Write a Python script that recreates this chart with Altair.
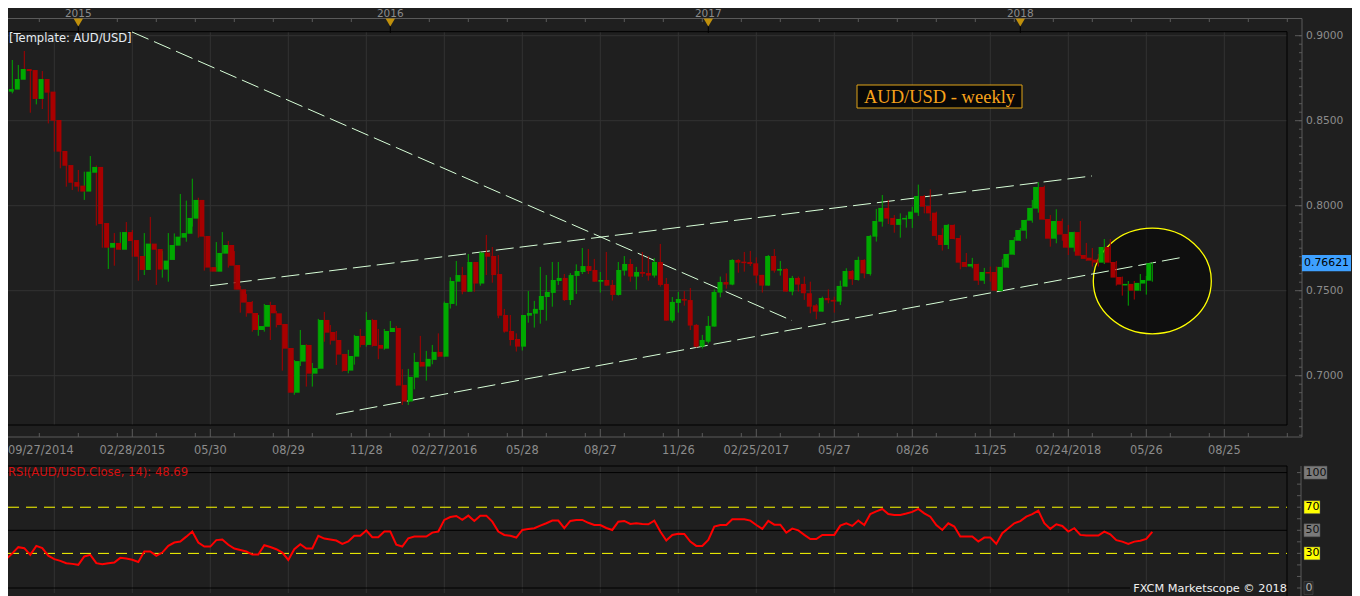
import altair as alt
import pandas as pd

# ---------------- data (weekly AUD/USD) ----------------
first_week = "2014-09-27"

opens = [
    0.8769, 0.8671, 0.8683, 0.8741, 0.8804, 0.8798, 0.8628, 0.8745, 0.8671, 0.8504,
    0.8322, 0.8239, 0.8139, 0.8118, 0.8083, 0.8194, 0.8228, 0.7898, 0.7753, 0.7781,
    0.7741, 0.7845, 0.7798, 0.7704, 0.7622, 0.7777, 0.7745, 0.7624, 0.7681, 0.7765,
    0.7812, 0.7835, 0.7924, 0.8034, 0.7822, 0.7639, 0.7612, 0.7718, 0.7769, 0.7651,
    0.7508, 0.7434, 0.7369, 0.7269, 0.7288, 0.7416, 0.7367, 0.7304, 0.7163, 0.6900,
    0.7083, 0.7181, 0.7012, 0.7041, 0.7328, 0.7257, 0.7210, 0.7128, 0.7030, 0.7112,
    0.7234, 0.7181, 0.7328, 0.7181, 0.7159, 0.7257, 0.7281, 0.6946, 0.6848, 0.6989,
    0.7081, 0.7054, 0.7093, 0.7140, 0.7112, 0.7422, 0.7553, 0.7592, 0.7494, 0.7669,
    0.7542, 0.7724, 0.7704, 0.7598, 0.7357, 0.7263, 0.7216, 0.7171, 0.7353, 0.7365,
    0.7387, 0.7463, 0.7487, 0.7557, 0.7575, 0.7445, 0.7587, 0.7610, 0.7645, 0.7622,
    0.7553, 0.7563, 0.7534, 0.7475, 0.7618, 0.7657, 0.7583, 0.7610, 0.7604, 0.7589,
    0.7669, 0.7540, 0.7324, 0.7428, 0.7451, 0.7445, 0.7299, 0.7171, 0.7200, 0.7289,
    0.7489, 0.7551, 0.7536, 0.7681, 0.7671, 0.7669, 0.7661, 0.7593, 0.7530, 0.7704,
    0.7618, 0.7628, 0.7495, 0.7575, 0.7540, 0.7485, 0.7414, 0.7377, 0.7457, 0.7446,
    0.7436, 0.7524, 0.7616, 0.7563, 0.7681, 0.7598, 0.7818, 0.7906, 0.7987, 0.7928,
    0.7887, 0.7920, 0.7922, 0.7959, 0.8057, 0.7998, 0.7959, 0.7828, 0.7769, 0.7887,
    0.7810, 0.7669, 0.7642, 0.7657, 0.7559, 0.7610, 0.7610, 0.7498, 0.7636, 0.7712,
    0.7794, 0.7853, 0.7912, 0.7983, 0.8110, 0.7922, 0.7806, 0.7910, 0.7834, 0.7753,
    0.7845, 0.7710, 0.7694, 0.7683, 0.7665, 0.7757, 0.7669, 0.7581, 0.7536, 0.7540,
    0.7500, 0.7542, 0.7559,
]
highs = [
    0.8798, 0.8896, 0.8857, 0.8828, 0.8910, 0.8798, 0.8750, 0.8792, 0.8696, 0.8539,
    0.8377, 0.8269, 0.8141, 0.8210, 0.8200, 0.8292, 0.8237, 0.8024, 0.7871, 0.7839,
    0.7845, 0.7904, 0.7857, 0.7704, 0.7839, 0.7934, 0.7745, 0.7733, 0.7839, 0.7837,
    0.8069, 0.8030, 0.8159, 0.8047, 0.7822, 0.7639, 0.7786, 0.7845, 0.7792, 0.7733,
    0.7528, 0.7481, 0.7439, 0.7357, 0.7422, 0.7435, 0.7381, 0.7304, 0.7163, 0.7092,
    0.7269, 0.7185, 0.7075, 0.7334, 0.7375, 0.7298, 0.7263, 0.7128, 0.7152, 0.7240,
    0.7275, 0.7375, 0.7334, 0.7275, 0.7275, 0.7322, 0.7293, 0.7038, 0.7040, 0.7134,
    0.7234, 0.7146, 0.7181, 0.7249, 0.7436, 0.7579, 0.7675, 0.7640, 0.7716, 0.7669,
    0.7730, 0.7828, 0.7757, 0.7710, 0.7393, 0.7357, 0.7249, 0.7357, 0.7498, 0.7440,
    0.7640, 0.7592, 0.7669, 0.7669, 0.7598, 0.7604, 0.7655, 0.7751, 0.7745, 0.7687,
    0.7610, 0.7728, 0.7563, 0.7669, 0.7704, 0.7687, 0.7640, 0.7728, 0.7704, 0.7692,
    0.7775, 0.7575, 0.7463, 0.7493, 0.7498, 0.7516, 0.7304, 0.7240, 0.7351, 0.7508,
    0.7583, 0.7602, 0.7685, 0.7685, 0.7728, 0.7734, 0.7696, 0.7593, 0.7710, 0.7745,
    0.7675, 0.7632, 0.7587, 0.7583, 0.7583, 0.7553, 0.7422, 0.7465, 0.7508, 0.7465,
    0.7559, 0.7632, 0.7622, 0.7700, 0.7685, 0.7828, 0.7981, 0.8063, 0.8034, 0.7945,
    0.7955, 0.7943, 0.7994, 0.8124, 0.8063, 0.8096, 0.7965, 0.7867, 0.7892, 0.7890,
    0.7826, 0.7722, 0.7693, 0.7659, 0.7634, 0.7642, 0.7642, 0.7687, 0.7718, 0.7816,
    0.7869, 0.7918, 0.8034, 0.8139, 0.8118, 0.7945, 0.7979, 0.7924, 0.7887, 0.7847,
    0.7910, 0.7781, 0.7751, 0.7716, 0.7804, 0.7804, 0.7675, 0.7583, 0.7557, 0.7557,
    0.7598, 0.7587, 0.7667,
]
lows = [
    0.8661, 0.8661, 0.8661, 0.8724, 0.8759, 0.8547, 0.8596, 0.8569, 0.8484, 0.8318,
    0.8220, 0.8112, 0.8092, 0.8083, 0.8034, 0.8194, 0.7883, 0.7753, 0.7628, 0.7647,
    0.7741, 0.7769, 0.7700, 0.7559, 0.7592, 0.7741, 0.7534, 0.7577, 0.7553, 0.7681,
    0.7812, 0.7788, 0.7877, 0.7812, 0.7618, 0.7612, 0.7612, 0.7718, 0.7636, 0.7506,
    0.7371, 0.7347, 0.7259, 0.7235, 0.7259, 0.7210, 0.7284, 0.7030, 0.6900, 0.6888,
    0.7057, 0.6936, 0.6936, 0.7041, 0.7200, 0.7183, 0.7063, 0.7024, 0.7014, 0.7065,
    0.7167, 0.7171, 0.7171, 0.7097, 0.7153, 0.7257, 0.6942, 0.6828, 0.6828, 0.6920,
    0.7054, 0.6971, 0.7067, 0.7112, 0.7112, 0.7395, 0.7412, 0.7479, 0.7494, 0.7494,
    0.7530, 0.7592, 0.7547, 0.7338, 0.7253, 0.7177, 0.7142, 0.7148, 0.7312, 0.7283,
    0.7306, 0.7324, 0.7406, 0.7534, 0.7440, 0.7416, 0.7481, 0.7598, 0.7598, 0.7553,
    0.7489, 0.7530, 0.7442, 0.7471, 0.7589, 0.7553, 0.7506, 0.7581, 0.7559, 0.7577,
    0.7524, 0.7324, 0.7312, 0.7371, 0.7412, 0.7269, 0.7165, 0.7160, 0.7190, 0.7289,
    0.7461, 0.7512, 0.7532, 0.7606, 0.7612, 0.7645, 0.7544, 0.7489, 0.7530, 0.7606,
    0.7589, 0.7495, 0.7473, 0.7495, 0.7446, 0.7367, 0.7332, 0.7377, 0.7426, 0.7371,
    0.7416, 0.7524, 0.7534, 0.7559, 0.7573, 0.7589, 0.7789, 0.7877, 0.7892, 0.7841,
    0.7812, 0.7871, 0.7869, 0.7940, 0.7955, 0.7910, 0.7798, 0.7736, 0.7745, 0.7802,
    0.7626, 0.7638, 0.7632, 0.7534, 0.7540, 0.7553, 0.7498, 0.7496, 0.7634, 0.7710,
    0.7792, 0.7806, 0.7900, 0.7959, 0.7916, 0.7759, 0.7779, 0.7794, 0.7710, 0.7730,
    0.7704, 0.7675, 0.7642, 0.7642, 0.7657, 0.7663, 0.7530, 0.7471, 0.7412, 0.7448,
    0.7498, 0.7477, 0.7553,
]
closes = [
    0.8671, 0.8686, 0.8745, 0.8804, 0.8792, 0.8628, 0.8745, 0.8665, 0.8500, 0.8318,
    0.8235, 0.8135, 0.8112, 0.8083, 0.8200, 0.8228, 0.7892, 0.7753, 0.7781, 0.7741,
    0.7845, 0.7792, 0.7700, 0.7622, 0.7777, 0.7741, 0.7624, 0.7677, 0.7769, 0.7818,
    0.7839, 0.7928, 0.8034, 0.7818, 0.7636, 0.7612, 0.7722, 0.7769, 0.7647, 0.7506,
    0.7430, 0.7367, 0.7269, 0.7292, 0.7416, 0.7367, 0.7298, 0.7159, 0.6900, 0.7086,
    0.7181, 0.7012, 0.7045, 0.7328, 0.7253, 0.7206, 0.7124, 0.7028, 0.7116, 0.7234,
    0.7181, 0.7328, 0.7175, 0.7159, 0.7263, 0.7281, 0.6942, 0.6848, 0.6993, 0.7081,
    0.7054, 0.7099, 0.7140, 0.7112, 0.7428, 0.7557, 0.7592, 0.7494, 0.7669, 0.7542,
    0.7724, 0.7700, 0.7592, 0.7353, 0.7259, 0.7210, 0.7171, 0.7357, 0.7369, 0.7393,
    0.7469, 0.7493, 0.7563, 0.7575, 0.7445, 0.7592, 0.7616, 0.7645, 0.7616, 0.7553,
    0.7563, 0.7530, 0.7475, 0.7622, 0.7657, 0.7583, 0.7610, 0.7600, 0.7589, 0.7669,
    0.7534, 0.7324, 0.7434, 0.7451, 0.7442, 0.7295, 0.7171, 0.7210, 0.7293, 0.7493,
    0.7551, 0.7536, 0.7681, 0.7665, 0.7665, 0.7657, 0.7589, 0.7530, 0.7704, 0.7618,
    0.7628, 0.7495, 0.7575, 0.7536, 0.7485, 0.7406, 0.7377, 0.7457, 0.7444, 0.7436,
    0.7528, 0.7616, 0.7567, 0.7681, 0.7602, 0.7822, 0.7910, 0.7987, 0.7924, 0.7887,
    0.7922, 0.7928, 0.7965, 0.8057, 0.7994, 0.7955, 0.7822, 0.7769, 0.7887, 0.7804,
    0.7665, 0.7640, 0.7657, 0.7559, 0.7610, 0.7606, 0.7500, 0.7640, 0.7716, 0.7798,
    0.7857, 0.7916, 0.7987, 0.8110, 0.7918, 0.7806, 0.7910, 0.7830, 0.7753, 0.7845,
    0.7706, 0.7687, 0.7677, 0.7665, 0.7757, 0.7665, 0.7577, 0.7536, 0.7540, 0.7500,
    0.7546, 0.7563, 0.76621,
]
rsi14 = [
    25.2, 25.2, 30.0, 35.4, 34.5, 28.7, 36.5, 34.5, 28.0, 25.0,
    23.5, 21.5, 20.9, 20.1, 27.3, 28.7, 21.5, 20.6, 21.5, 22.1,
    26.1, 25.5, 24.5, 22.6, 31.6, 31.6, 27.9, 30.7, 36.5, 39.4,
    40.3, 44.5, 48.9, 39.4, 35.9, 35.9, 41.5, 42.0, 37.5, 34.2,
    33.0, 31.6, 29.0, 29.0, 37.1, 35.5, 33.6, 30.7, 24.3, 33.6,
    37.9, 34.2, 34.2, 45.2, 42.8, 42.0, 41.1, 38.2, 40.3, 45.2,
    45.2, 49.8, 44.0, 44.0, 48.9, 48.9, 37.6, 35.9, 43.1, 44.6,
    44.6, 44.6, 48.0, 48.9, 59.0, 61.5, 62.4, 59.0, 62.7, 58.1,
    62.7, 62.7, 57.5, 48.9, 46.0, 45.2, 43.7, 50.3, 51.2, 51.8,
    54.0, 56.1, 58.4, 58.4, 51.8, 58.1, 59.0, 59.0, 56.5, 54.6,
    54.6, 52.0, 50.3, 57.5, 58.1, 55.5, 56.1, 55.5, 55.2, 58.4,
    48.9, 41.1, 46.0, 47.0, 46.8, 40.2, 36.5, 36.5, 41.7, 53.2,
    54.6, 54.6, 59.6, 59.6, 59.6, 58.4, 54.6, 51.2, 58.1, 54.9,
    54.9, 48.0, 51.5, 49.9, 46.0, 42.5, 42.5, 46.0, 46.0, 46.0,
    54.0, 56.1, 53.8, 58.4, 54.6, 64.1, 66.4, 68.5, 64.1, 63.3,
    63.3, 64.5, 66.0, 68.5, 64.7, 61.8, 54.6, 50.3, 56.1, 53.2,
    44.6, 44.6, 44.6, 40.2, 43.7, 43.7, 38.2, 47.5, 51.8, 56.1,
    58.0, 61.8, 64.0, 67.1, 56.1, 51.2, 55.2, 53.8, 48.9, 51.8,
    46.0, 45.5, 45.5, 45.5, 48.9, 46.5, 41.5, 40.2, 38.2, 40.2,
    41.0, 42.5, 48.69,
]
last_price = 0.76621
last_rsi = 48.69

price_ticks = [0.70, 0.75, 0.80, 0.85, 0.90]
rsi_ticks = [100, 70, 50, 30, 0]
rsi_tick_kind = ["grey", "yellow", "grey", "yellow", "dark"]
date_label_weeks = [22, 35, 48, 61, 74, 87, 100, 113, 126, 139, 152, 165, 178, 191, 204]
date_labels = ["02/28/2015", "05/30", "08/29", "11/28", "02/27/2016", "05/28", "08/27",
               "11/26", "02/25/2017", "05/27", "08/26", "11/25", "02/24/2018", "05/26", "08/25"]
first_date_label = "09/27/2014"
year_weeks = [13, 65, 118, 170]
year_labels = ["2015", "2016", "2017", "2018"]

# hand-drawn trend lines (week index, price) and the highlight ellipse
trend_name = ["down", "down", "top", "top", "bottom", "bottom"]
trend_week = [21.95, 131.95, 34.95, 181.95, 55.95, 196.95]
trend_price = [0.9022, 0.7324, 0.7529, 0.8175, 0.6773, 0.7696]
ellipse_week = [192]
ellipse_price = [0.7557]

# ---------------- tables ----------------
N = len(closes)
week = list(range(N))
dates = pd.date_range(first_week, periods=N, freq="7D").strftime("%m/%d/%Y").tolist()
candles = pd.DataFrame(dict(week=week, date=dates, open=opens, high=highs, low=lows, close=closes))
rsi_df = pd.DataFrame(dict(week=week, rsi=rsi14))
trend_df = pd.DataFrame(dict(name=trend_name, week=trend_week, price=trend_price))
ellipse_df = pd.DataFrame(dict(week=ellipse_week, price=ellipse_price))
one = pd.DataFrame({"v": [0]})

# ---------------- layout (reference pixels; the page adds an 8px margin) ----------------
W, H = 1344, 588
OFF = 8
PXW = 6.0          # pixels per week


def c(ref):
    return ref - OFF


X0 = c(0.3)        # chart x of week 0
GRID_WEEKS = list(range(9, 215, 13))
STRIP_TICKS = [6.5 * i for i in range(1, 34)]

BG = "#1f1f1f"
GRID = "#333333"
AXIS = "#5a5a5a"
LABEL = "#8c8c8c"
GREEN = "#00a800"
RED = "#a80000"
FONT = "DejaVu Sans"

xs = alt.Scale(domain=[(0 - X0) / PXW, (W - X0) / PXW], range=[0, W], nice=False, zero=False)
ps = alt.Scale(domain=[0.70, 0.90], range=[c(375.7), c(35.7)], nice=False, zero=False)
rs = alt.Scale(domain=[0, 100], range=[c(588.0), c(472.6)], nice=False, zero=False)


def X(f):
    return alt.X(f, type="quantitative", scale=xs, axis=None)


def YP(f):
    return alt.Y(f, type="quantitative", scale=ps, axis=None)


def YR(f):
    return alt.Y(f, type="quantitative", scale=rs, axis=None)


def XI(f):
    return alt.X(f, type="quantitative", scale=None, axis=None)


def YI(f):
    return alt.Y(f, type="quantitative", scale=None, axis=None)


layers = []

# vertical grid lines (price panel and RSI panel)
grid_df = pd.DataFrame({"week": GRID_WEEKS})
layers.append(alt.Chart(grid_df).mark_rule(color=GRID, strokeWidth=1).encode(
    x=X("week"), y=alt.value(c(31.7)), y2=alt.value(c(425))))
layers.append(alt.Chart(grid_df).mark_rule(color=GRID, strokeWidth=1).encode(
    x=X("week"), y=alt.value(c(466)), y2=alt.value(c(593))))
# horizontal price grid lines
pt_df = pd.DataFrame({"p": price_ticks})
layers.append(alt.Chart(pt_df).mark_rule(color=GRID, strokeWidth=1).encode(
    y=YP("p"), x=alt.value(0), x2=alt.value(c(1287))))

# frame lines (pixel positions)
frame = pd.DataFrame([
    dict(x=c(0), x2=c(1302), y=c(18.5), y2=c(18.5), col=AXIS),      # top time strip
    dict(x=c(0), x2=c(1287), y=c(31.7), y2=c(31.7), col="#000000"),  # price panel top
    dict(x=c(1287), x2=c(1287), y=c(31.7), y2=c(425), col="#000000"),
    dict(x=c(0), x2=c(1287), y=c(425), y2=c(425), col="#000000"),
    dict(x=c(0), x2=c(1302), y=c(437), y2=c(437), col=AXIS),         # date axis line
    dict(x=c(1302), x2=c(1302), y=c(18.5), y2=c(437), col=AXIS),     # price axis line
    dict(x=c(0), x2=c(1287), y=c(466), y2=c(466), col="#000000"),    # RSI panel top
    dict(x=c(1287), x2=c(1287), y=c(466), y2=c(596), col="#000000"),
    dict(x=c(1301), x2=c(1301), y=c(466), y2=c(596), col=AXIS),      # RSI axis line
])
layers.append(alt.Chart(frame).mark_rule(strokeWidth=1).encode(
    x=XI("x"), x2=alt.X2("x2"), y=YI("y"), y2=alt.Y2("y2"),
    color=alt.Color("col:N", scale=None)))

# RSI level lines
lv_black = pd.DataFrame({"lvl": [100, 50, 0]})
layers.append(alt.Chart(lv_black).mark_rule(color="#000000", strokeWidth=1).encode(
    y=YR("lvl"), x=alt.value(0), x2=alt.value(c(1287))))
lv_yellow = pd.DataFrame({"lvl": [70, 30]})
layers.append(alt.Chart(lv_yellow).mark_rule(color="#ffff00", strokeWidth=1, strokeDash=[11, 7]).encode(
    y=YR("lvl"), x=alt.value(0), x2=alt.value(c(1287))))

# highlight ellipse
ELLIPSE = "M-1,0A1,0.895,0,1,1,1,0A1,0.895,0,1,1,-1,0Z"
layers.append(alt.Chart(ellipse_df).mark_point(
    shape=ELLIPSE, size=118 * 118, filled=True, fill="#000000", fillOpacity=0.5,
    stroke="#ffff00", strokeWidth=1.3, strokeOpacity=1, opacity=1).encode(
    x=X("week"), y=YP("price")))

# trend lines
layers.append(alt.Chart(trend_df).mark_line(
    color="#d8ffd8", strokeWidth=1, strokeDash=[18, 6], clip=True).encode(
    x=X("week"), y=YP("price"), detail="name:N"))

# candles
candle_color = alt.condition("datum.close >= datum.open", alt.value(GREEN), alt.value(RED))
layers.append(alt.Chart(candles).mark_rule(strokeWidth=1, clip=True).encode(
    x=X("week"), y=YP("low"), y2=alt.Y2("high"), color=candle_color))
layers.append(alt.Chart(candles).transform_calculate(
    btop="max(datum.open, datum.close)",
    bbot="min(datum.open, datum.close) - (abs(datum.open - datum.close) < 0.0009 ? 0.0009 - abs(datum.open - datum.close) : 0)",
).mark_bar(size=5, clip=True).encode(
    x=X("week"), y=YP("bbot:Q"), y2=alt.Y2("btop:Q"), color=candle_color))

# RSI line
layers.append(alt.Chart(rsi_df).mark_line(color="#ff0000", strokeWidth=2, clip=True).encode(
    x=X("week"), y=YR("rsi")))

# ---------- axes drawn from scales ----------
# top time strip: ticks, year markers and labels
layers.append(alt.Chart(pd.DataFrame({"week": STRIP_TICKS})).mark_rule(color=AXIS).encode(
    x=X("week"), y=alt.value(c(18.5)), y2=alt.value(c(22))))
yr_df = pd.DataFrame({"week": year_weeks, "label": year_labels})
layers.append(alt.Chart(yr_df).mark_rule(color="#000000").encode(
    x=X("week"), y=alt.value(c(26)), y2=alt.value(c(33))))
layers.append(alt.Chart(yr_df).mark_point(
    shape="triangle-down", filled=True, size=90, color="#c0900c", opacity=1).encode(
    x=X("week"), y=alt.value(c(22.5))))
layers.append(alt.Chart(yr_df).mark_text(
    font=FONT, fontSize=10.5, color=LABEL, baseline="alphabetic", align="center").encode(
    x=X("week"), y=alt.value(c(17.3)), text="label:N"))

# price axis ticks and labels
minor_p = [round(0.665 + 0.005 * i, 3) for i in range(48)]
layers.append(alt.Chart(pd.DataFrame({"p": minor_p})).mark_rule(color=AXIS).encode(
    y=YP("p"), x=alt.value(c(1299)), x2=alt.value(c(1302))))
layers.append(alt.Chart(pt_df).mark_rule(color=AXIS).encode(
    y=YP("p"), x=alt.value(c(1295)), x2=alt.value(c(1302))))
layers.append(alt.Chart(pt_df).mark_text(
    font=FONT, fontSize=10.7, color=LABEL, align="left", baseline="middle").encode(
    y=YP("p"), x=alt.value(c(1306)), text=alt.Text("p:Q", format=".4f")))

# current price tag
tag_df = pd.DataFrame({"p": [last_price], "label": [f"{last_price:.5f}"]})
layers.append(alt.Chart(tag_df).transform_calculate(
    t="datum.p + 0.0048", b="datum.p - 0.0048").mark_rect(color="#3ea0ff").encode(
    y=YP("b:Q"), y2=alt.Y2("t:Q"), x=alt.value(c(1302)), x2=alt.value(c(1351))))
layers.append(alt.Chart(tag_df).mark_text(
    font=FONT, fontSize=10.9, color="#000000", align="left", baseline="middle").encode(
    y=YP("p"), x=alt.value(c(1304)), text="label:N"))

# date axis ticks and labels
layers.append(alt.Chart(pd.DataFrame({"week": STRIP_TICKS})).mark_rule(color=AXIS).encode(
    x=X("week"), y=alt.value(c(433)), y2=alt.value(c(437))))
dl_df = pd.DataFrame({"week": date_label_weeks, "label": date_labels})
layers.append(alt.Chart(dl_df).mark_rule(color=AXIS).encode(
    x=X("week"), y=alt.value(c(429)), y2=alt.value(c(437))))
layers.append(alt.Chart(dl_df).mark_text(
    font=FONT, fontSize=11.4, color=LABEL, align="center", baseline="middle").encode(
    x=X("week"), y=alt.value(c(451)), text="label:N"))
layers.append(alt.Chart(one).mark_text(
    text=first_date_label, font=FONT, fontSize=11.4, color=LABEL, align="left", baseline="middle").encode(
    x=alt.value(0), y=alt.value(c(451))))

# RSI axis ticks and labels
rsi_minor = [10 * i for i in range(11)]
layers.append(alt.Chart(pd.DataFrame({"lvl": rsi_minor})).mark_rule(color=AXIS).encode(
    y=YR("lvl"), x=alt.value(c(1297)), x2=alt.value(c(1301))))
box_fill = {"grey": "#7a7a7a", "yellow": "#ffff00", "dark": "#262626"}
box_text = {"grey": "#101010", "yellow": "#000000", "dark": "#b0b0b0"}
rt_df = pd.DataFrame({"lvl": rsi_ticks, "kind": rsi_tick_kind})
rt_df["label"] = rt_df["lvl"].astype(str)
rt_df["fill"] = rt_df["kind"].map(box_fill)
rt_df["tcol"] = rt_df["kind"].map(box_text)
rt_df["x1"] = c(1304)
rt_df["x2"] = c(1304) + 2 + 7 * rt_df["label"].str.len()
layers.append(alt.Chart(rt_df).transform_calculate(
    t="datum.lvl + 5.6", b="datum.lvl - 5.6").mark_rect(stroke="#555555", strokeWidth=0.5).encode(
    y=YR("b:Q"), y2=alt.Y2("t:Q"), x=XI("x1"), x2=alt.X2("x2"),
    fill=alt.Color("fill:N", scale=None)))
layers.append(alt.Chart(rt_df).mark_text(
    font=FONT, fontSize=11, align="left", baseline="middle").encode(
    y=YR("lvl"), x=alt.value(c(1305.5)), text="label:N",
    color=alt.Color("tcol:N", scale=None)))

# ---------- annotations ----------
layers.append(alt.Chart(one).mark_text(
    text="[Template: AUD/USD]", font=FONT, fontSize=11.5, color="#e6ecf2",
    align="left", baseline="middle").encode(x=alt.value(c(9)), y=alt.value(c(39))))
layers.append(alt.Chart(one).mark_rect(
    fill="#080808", stroke="#e0a418", strokeWidth=1).encode(
    x=alt.value(c(857)), x2=alt.value(c(1022)), y=alt.value(c(85)), y2=alt.value(c(108))))
layers.append(alt.Chart(one).mark_text(
    text="AUD/USD - weekly", font="Liberation Serif", fontSize=18.5, color="#f7a21b",
    align="center", baseline="middle").encode(x=alt.value(c(939.5)), y=alt.value(c(97))))
layers.append(alt.Chart(one).mark_text(
    text=f"RSI(AUD/USD.Close, 14): {last_rsi:.2f}", font=FONT, fontSize=11.6, color="#d41010",
    align="left", baseline="middle").encode(x=alt.value(c(8)), y=alt.value(c(473))))
layers.append(alt.Chart(one).mark_rect(fill=BG).encode(
    x=alt.value(c(1130)), x2=alt.value(c(1286)), y=alt.value(c(583)), y2=alt.value(c(595))))
layers.append(alt.Chart(one).mark_text(
    text="FXCM Marketscope \u00a9 2018", font=FONT, fontSize=11.3, color="#f0f0f0",
    align="right", baseline="middle").encode(x=alt.value(c(1287)), y=alt.value(c(589))))

chart = alt.layer(*layers).resolve_scale(
    x="independent", y="independent", color="independent"
).properties(
    width=W, height=H, padding=0, autosize=alt.AutoSizeParams(type="none")
).configure(background=BG).configure_view(strokeWidth=0)

chart.save("out.html", embed_options={"renderer": "svg", "actions": False})
